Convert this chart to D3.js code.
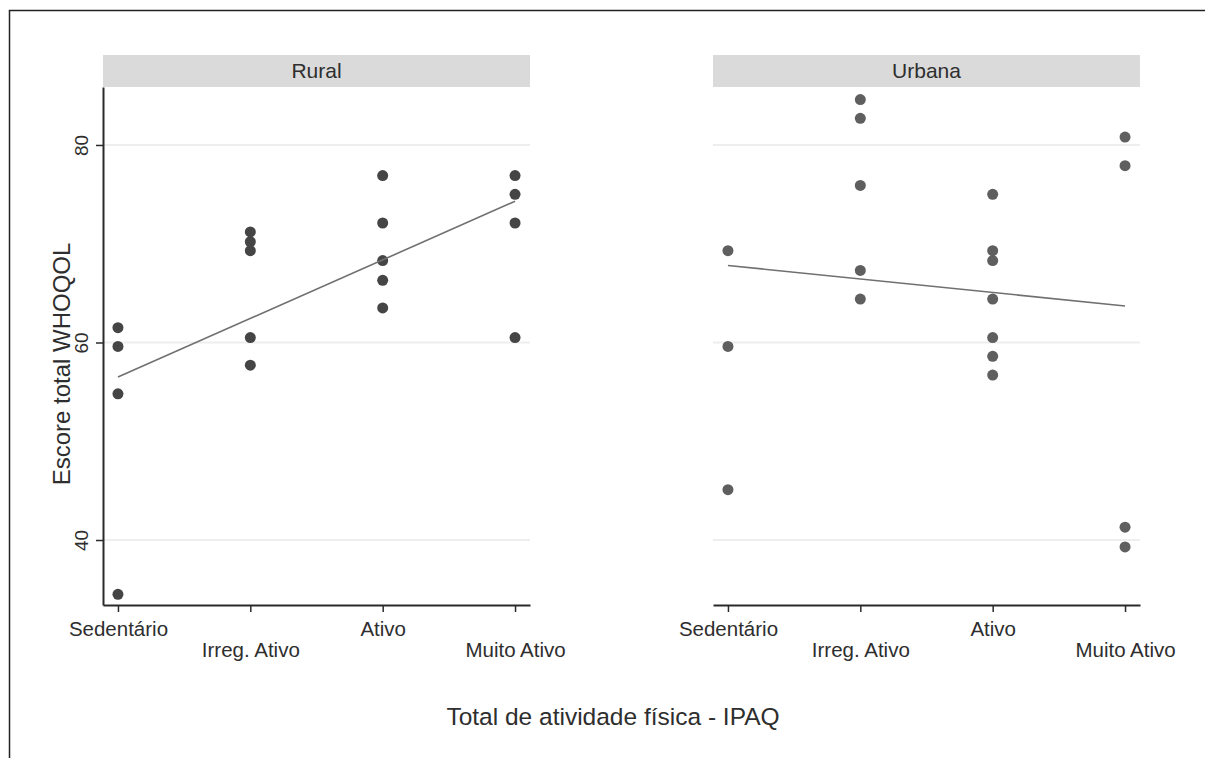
<html>
<head>
<meta charset="utf-8">
<title>WHOQOL x IPAQ</title>
<style>
  body { margin: 0; background: #fff; }
  text { font-family: "Liberation Sans", Arial, Helvetica, sans-serif; fill: #2e2e2e; }
</style>
</head>
<body>
<div id="viz"></div>
<script src="https://d3js.org/d3.v7.min.js"></script>
<script>

var width = 1205;
var height = 758;

// categorias do eixo x
var categories = ["Sedentário", "Irreg. Ativo", "Ativo", "Muito Ativo"];
var yTicks = [40, 60, 80];

// Rural
var ruralLevel = ["Sedentário", "Sedentário", "Sedentário", "Sedentário",
    "Irreg. Ativo", "Irreg. Ativo", "Irreg. Ativo", "Irreg. Ativo", "Irreg. Ativo",
    "Ativo", "Ativo", "Ativo", "Ativo", "Ativo",
    "Muito Ativo", "Muito Ativo", "Muito Ativo", "Muito Ativo"];
var ruralScore = [61.5, 59.6, 54.8, 34.5,
    71.2, 70.2, 69.3, 60.5, 57.7,
    76.9, 72.1, 68.3, 66.3, 63.5,
    76.9, 75.0, 72.1, 60.5];
var ruralFit = [56.5, 74.3];

// Urbana
var urbanaLevel = ["Sedentário", "Sedentário", "Sedentário",
    "Irreg. Ativo", "Irreg. Ativo", "Irreg. Ativo", "Irreg. Ativo", "Irreg. Ativo",
    "Ativo", "Ativo", "Ativo", "Ativo", "Ativo", "Ativo", "Ativo",
    "Muito Ativo", "Muito Ativo", "Muito Ativo", "Muito Ativo"];
var urbanaScore = [69.3, 59.6, 45.1,
    84.6, 82.7, 75.9, 67.3, 64.4,
    75.0, 69.3, 68.3, 64.4, 60.5, 58.6, 56.7,
    80.8, 77.9, 41.3, 39.3];
var urbanaFit = [67.8, 63.7];

var svg = d3.select("#viz")
    .append("svg")
    .attr("width", width)
    .attr("height", height);

// moldura
svg.append("path")
    .attr("d", "M9.5," + height + "V10.5H" + width)
    .attr("fill", "none")
    .attr("stroke", "#222")
    .attr("stroke-width", 1.5);

var panelW = 427;
var plotTop = 87, plotBottom = 605;

var y = d3.scaleLinear()
    .domain([33.42, 85.87])
    .range([plotBottom, plotTop]);

function drawPanel(x0, title, levels, scores, fit, dotColor, showY) {
    var g = svg.append("g").attr("transform", "translate(" + x0 + ",0)");

    var x = d3.scalePoint()
        .domain(categories)
        .range([0, panelW])
        .padding(0.113);

    // faixa do titulo
    g.append("rect")
        .attr("x", 0).attr("y", 55)
        .attr("width", panelW).attr("height", plotTop - 55)
        .attr("fill", "#dadada");
    g.append("text")
        .attr("x", panelW / 2).attr("y", 78)
        .attr("text-anchor", "middle")
        .attr("font-size", 21)
        .text(title);

    // grade
    g.selectAll(".grid")
        .data(yTicks)
        .enter().append("line")
        .attr("x1", 0).attr("x2", panelW)
        .attr("y1", function (d) { return y(d); })
        .attr("y2", function (d) { return y(d); })
        .attr("stroke", "#eeeeee")
        .attr("stroke-width", 2);

    // eixo x
    var xAxis = g.append("g")
        .attr("transform", "translate(0," + plotBottom + ")")
        .call(d3.axisBottom(x).tickSize(7).tickSizeOuter(0));
    xAxis.select(".domain").attr("stroke", "#2a2a2a").attr("stroke-width", 2);
    xAxis.selectAll(".tick line").attr("stroke", "#2a2a2a").attr("stroke-width", 1.5);
    xAxis.selectAll(".tick text")
        .attr("font-size", 20.5)
        .attr("font-family", "Liberation Sans, Arial, sans-serif")
        .attr("fill", "#2e2e2e")
        .attr("dy", null)
        .attr("y", function (d, i) { return i % 2 === 0 ? 31 : 52; });

    if (showY) {
        var yAxis = g.append("g")
            .call(d3.axisLeft(y).tickValues(yTicks).tickSize(7).tickSizeOuter(0));
        yAxis.select(".domain").attr("stroke", "#2a2a2a").attr("stroke-width", 2);
        yAxis.selectAll(".tick line").attr("stroke", "#2a2a2a").attr("stroke-width", 1.5);
        yAxis.selectAll(".tick text")
            .attr("font-size", 19)
            .attr("font-family", "Liberation Sans, Arial, sans-serif")
            .attr("fill", "#2e2e2e")
            .attr("x", null).attr("dy", null)
            .attr("text-anchor", "middle")
            .attr("transform", "translate(-15,0) rotate(-90)");
    }

    // pontos
    g.selectAll("circle")
        .data(scores)
        .enter().append("circle")
        .attr("cx", function (d, i) { return x(levels[i]); })
        .attr("cy", function (d) { return y(d); })
        .attr("r", 5.5)
        .attr("fill", dotColor);

    // reta ajustada
    var line = d3.line()
        .x(function (d, i) { return x(categories[i === 0 ? 0 : categories.length - 1]); })
        .y(function (d) { return y(d); });
    g.append("path")
        .datum(fit)
        .attr("d", line)
        .attr("fill", "none")
        .attr("stroke", "#707070")
        .attr("stroke-width", 1.6);
}

drawPanel(103, "Rural", ruralLevel, ruralScore, ruralFit, "#454545", true);
drawPanel(713, "Urbana", urbanaLevel, urbanaScore, urbanaFit, "#5f5f5f", false);

// titulos dos eixos
svg.append("text")
    .attr("transform", "translate(70,364) rotate(-90)")
    .attr("text-anchor", "middle")
    .attr("font-size", 24)
    .text("Escore total WHOQOL");

svg.append("text")
    .attr("x", 613).attr("y", 725)
    .attr("text-anchor", "middle")
    .attr("font-size", 24.5)
    .text("Total de atividade física - IPAQ");

</script>
</body>
</html>
